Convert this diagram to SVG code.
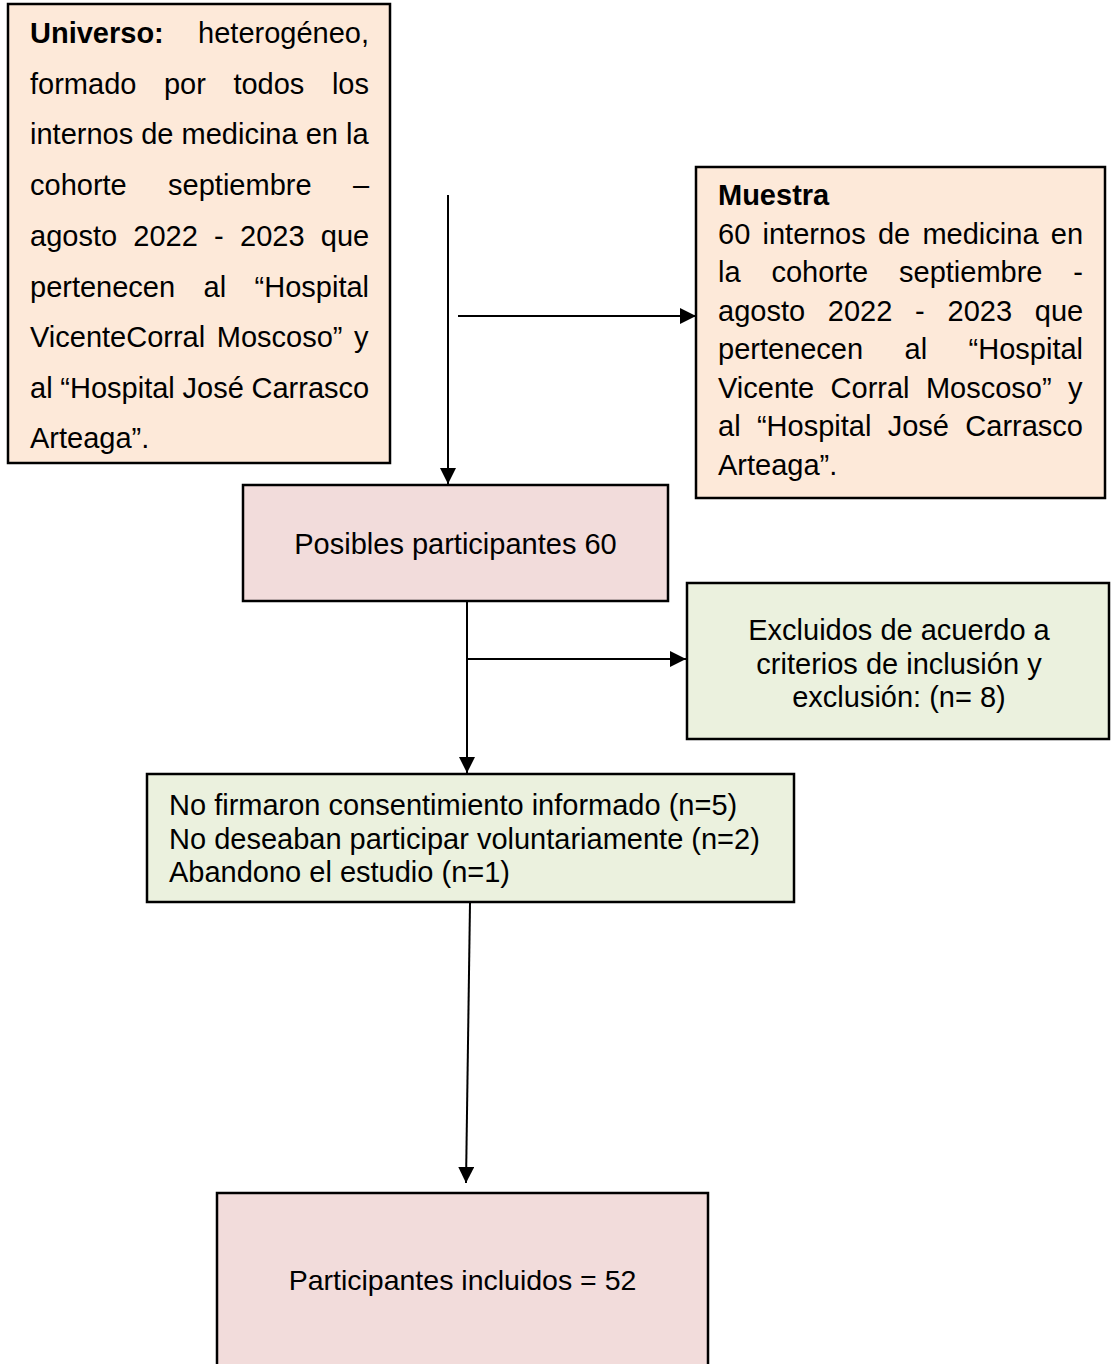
<svg xmlns="http://www.w3.org/2000/svg" width="1111" height="1364" viewBox="0 0 1111 1364">
<style>
.box{stroke:#000;stroke-width:2.5}
.peach{fill:#FDE9D9}
.pink{fill:#F2DCDB}
.green{fill:#EBF1DE}
text{font-family:"Liberation Sans",Arial,sans-serif;font-size:29px;fill:#000}
.b{font-weight:bold}
.c{text-anchor:middle}
.e{text-anchor:end}
.conn{stroke:#000;stroke-width:2;fill:none;marker-end:url(#ah)}
</style>
<defs>
<marker id="ah" markerUnits="userSpaceOnUse" markerWidth="16" markerHeight="16" viewBox="0 0 16 16" refX="16" refY="8" orient="auto">
<path d="M0,0 L16,8 L0,16 Z" fill="#000"/>
</marker>
</defs>

<g id="universo">
<rect class="box peach" x="8" y="4" width="382" height="459"/>
<text x="30" y="43" class="b">Universo:</text>
<text x="369" y="43" class="e">heterogéneo,</text>
<text x="30" y="93.7" style="word-spacing:19.5px">formado por todos los</text>
<text x="30" y="144.4">internos de medicina en la</text>
<text x="30" y="195" style="word-spacing:33.3px">cohorte septiembre –</text>
<text x="30" y="245.8" style="word-spacing:8.2px">agosto 2022 - 2023 que</text>
<text x="30" y="296.5" style="word-spacing:20.4px">pertenecen al “Hospital</text>
<text x="30" y="347" style="word-spacing:3.5px">VicenteCorral Moscoso” y</text>
<text x="30" y="398" style="word-spacing:-0.3px">al “Hospital José Carrasco</text>
<text x="30" y="448">Arteaga”.</text>
</g>

<g id="muestra">
<rect class="box peach" x="696" y="167" width="409" height="331"/>
<text x="718" y="205" class="b">Muestra</text>
<text x="718" y="244" style="word-spacing:4.2px">60 internos de medicina en</text>
<text x="718" y="282" style="word-spacing:22.8px">la cohorte septiembre -</text>
<text x="718" y="320.5" style="word-spacing:14.7px">agosto 2022 - 2023 que</text>
<text x="718" y="359" style="word-spacing:33.4px">pertenecen al “Hospital</text>
<text x="718" y="397.5" style="word-spacing:8.3px">Vicente Corral Moscoso” y</text>
<text x="718" y="436" style="word-spacing:8.3px">al “Hospital José Carrasco</text>
<text x="718" y="475">Arteaga”.</text>
</g>

<g id="posibles">
<rect class="box pink" x="243" y="485" width="425" height="116"/>
<text x="455.5" y="554" class="c">Posibles participantes 60</text>
</g>

<g id="excluidos">
<rect class="box green" x="687" y="583" width="422" height="156"/>
<text x="899" y="640" class="c">Excluidos de acuerdo a</text>
<text x="899" y="673.5" class="c">criterios de inclusión y</text>
<text x="899" y="707" class="c">exclusión: (n= 8)</text>
</g>

<g id="no-firmaron">
<rect class="box green" x="147" y="774" width="647" height="128"/>
<text x="169" y="815">No firmaron consentimiento informado (n=5)</text>
<text x="169" y="848.5">No deseaban participar voluntariamente (n=2)</text>
<text x="169" y="882">Abandono el estudio (n=1)</text>
</g>

<g id="incluidos">
<rect class="box pink" x="217" y="1193" width="491" height="180"/>
<text x="462.5" y="1290" class="c" style="font-size:28.5px">Participantes incluidos = 52</text>
</g>

<g id="connectors">
<path class="conn" d="M448,195 V484"/>
<path class="conn" d="M458,316 H696"/>
<path class="conn" d="M467,602 V773"/>
<path class="conn" d="M467,659 H686"/>
<path class="conn" d="M470,903 L466,1183"/>
</g>
</svg>
